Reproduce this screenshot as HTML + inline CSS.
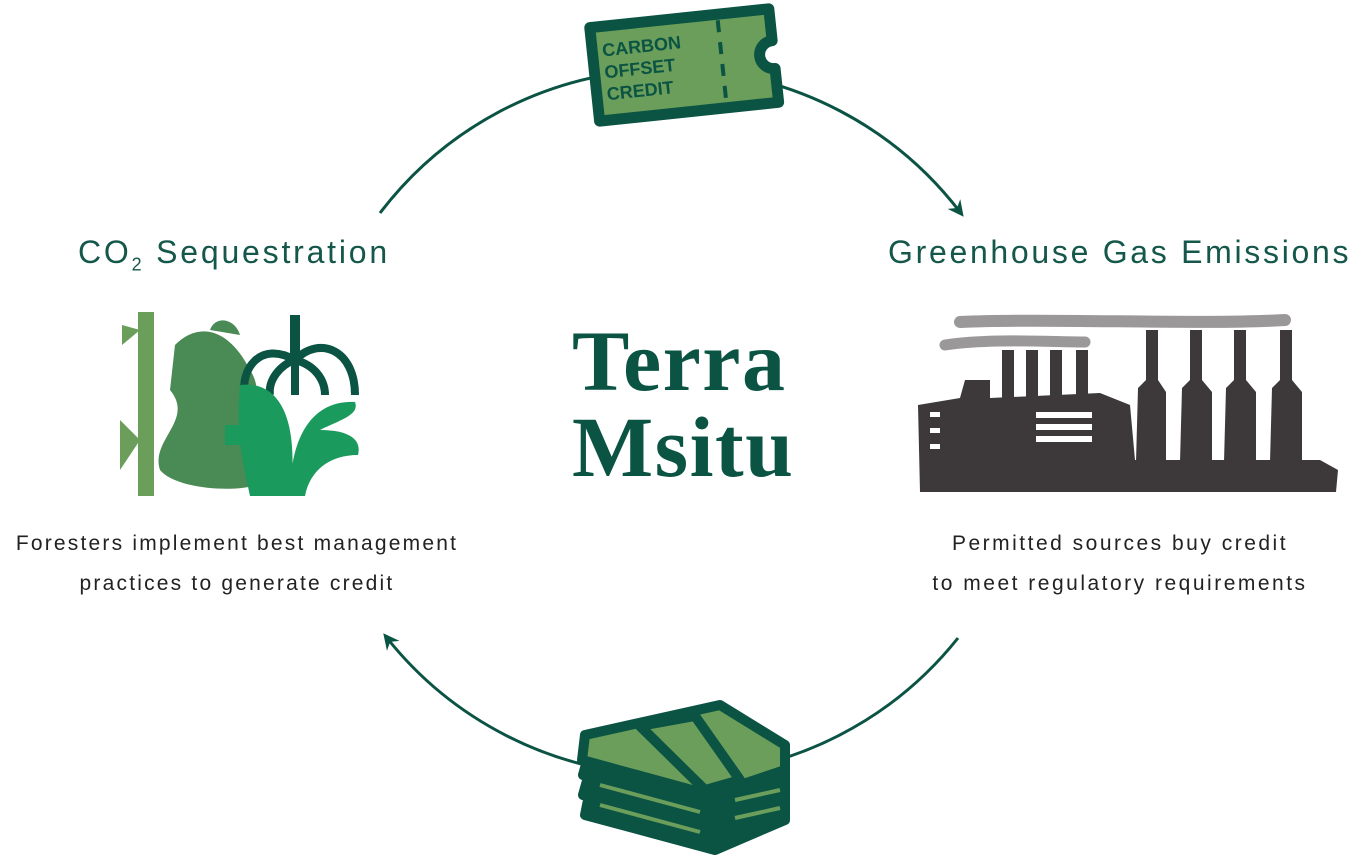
<!DOCTYPE html>
<html><head><meta charset="utf-8"><style>
html,body{margin:0;padding:0;background:#fff}
body{width:1352px;height:863px;position:relative;overflow:hidden;font-family:"Liberation Sans",sans-serif}
.t{position:absolute;color:#15574a;white-space:nowrap}
</style></head><body>
<svg width="1352" height="863" style="position:absolute;left:0;top:0">
<defs><marker id="ah" markerWidth="18" markerHeight="18" refX="10" refY="8" orient="auto" markerUnits="userSpaceOnUse">
<path d="M0,0 L16,8 L0,16 L5,8 Z" fill="#0b5444"/></marker></defs>
<path d="M380,213 A365 365 0 0 1 960,212" fill="none" stroke="#0b5444" stroke-width="3" marker-end="url(#ah)"/>
<path d="M958,638 A365 365 0 0 1 387,638" fill="none" stroke="#0b5444" stroke-width="3" marker-end="url(#ah)"/>
<g transform="rotate(-6 684 63)">
<path d="M594,18 H774 V50 A12 12 0 0 0 774,78 V112 H594 Z" fill="#6a9e5a" stroke="#0b5444" stroke-width="11" stroke-linejoin="round"/>
<line x1="722" y1="24" x2="722" y2="108" stroke="#0b5444" stroke-width="4" stroke-dasharray="12 10"/>
<text x="604" y="48" font-family="Liberation Sans" font-weight="bold" font-size="18" fill="#0b5444">CARBON</text>
<text x="604" y="70" font-family="Liberation Sans" font-weight="bold" font-size="18" fill="#0b5444">OFFSET</text>
<text x="604" y="92" font-family="Liberation Sans" font-weight="bold" font-size="18" fill="#0b5444">CREDIT</text>
</g>
<g stroke="#0b5444" stroke-width="10" stroke-linejoin="round">
<path d="M585,815 L715,850 L785,820 L785,800 L590,790 Z" fill="#0b5444"/>
<path d="M583,795 L715,830 L785,800 L785,780 L590,770 Z" fill="#0b5444"/>
<path d="M583,775 L715,812 L785,782 L785,760 L590,750 Z" fill="#0b5444"/>
<path d="M582,760 L710,795 L785,770 L785,745 L720,705 L585,735 Z" fill="#6a9e5a"/>
<path d="M640,726 L695,716 L740,780 L705,790 Z" fill="#6a9e5a"/>
</g>
<path d="M600,785 L700,812 M600,805 L700,832 M735,800 L780,790 M735,818 L780,808" stroke="#6a9e5a" stroke-width="4"/>
<rect x="138" y="312" width="16" height="184" fill="#6a9e5a"/>
<path d="M122,325 L140,330 L122,345 Z M120,420 L140,440 L120,470 Z" fill="#6a9e5a"/>
<path d="M175,345 C200,320 230,330 250,370 C270,400 240,440 270,470 C280,495 180,495 160,470 C150,440 195,420 170,390 Z" fill="#4a8a55"/>
<path d="M210,330 C215,315 235,318 240,335 Z" fill="#4a8a55"/>
<g fill="none" stroke="#0b5444" stroke-width="8">
<path d="M295,360 C260,340 240,370 245,395"/><path d="M295,360 C320,335 355,350 355,395"/>
<path d="M295,360 C280,365 268,380 270,395"/><path d="M295,360 C315,365 325,380 325,395"/>
<path d="M295,360 L295,395"/>
</g>
<path d="M290,315 H300 V360 H290 Z" fill="#0b5444"/>
<path d="M240,385 C280,380 300,420 290,496 H250 C245,470 235,440 240,385 Z" fill="#1a9a5c"/>
<path d="M290,496 C290,440 310,400 355,402 C360,415 340,420 320,430 C350,430 362,440 358,455 C330,455 310,470 305,496 Z" fill="#1a9a5c"/>
<path d="M225,425 L265,425 L265,445 L225,445 Z" fill="#1a9a5c"/>
<g fill="#3d393a">
<path d="M918,405 L960,398 L965,380 L990,380 L990,398 L1100,393 L1130,405 L1135,460 L1320,460 L1338,470 L1336,492 L920,492 Z"/>
<rect x="1002" y="350" width="12" height="50"/><rect x="1026" y="350" width="12" height="50"/>
<rect x="1050" y="350" width="12" height="50"/><rect x="1076" y="350" width="12" height="50"/>
<path d="M1138,388 L1146,380 L1146,330 L1158,330 L1158,380 L1166,392 L1166,462 L1136,462 Z"/>
<path d="M1182,388 L1190,380 L1190,330 L1202,330 L1202,380 L1212,392 L1212,462 L1180,462 Z"/>
<path d="M1226,388 L1234,380 L1234,330 L1246,330 L1246,380 L1256,392 L1256,462 L1224,462 Z"/>
<path d="M1272,388 L1280,380 L1280,330 L1292,330 L1292,380 L1302,392 L1302,462 L1270,462 Z"/>
</g>
<g fill="#fff"><rect x="1036" y="412" width="56" height="6"/><rect x="1036" y="424" width="56" height="6"/><rect x="1036" y="436" width="56" height="6"/>
<rect x="930" y="412" width="10" height="5"/><rect x="930" y="428" width="10" height="5"/><rect x="930" y="444" width="10" height="5"/></g>
<path d="M960,322 C1050,318 1200,325 1285,320" stroke="#9a9898" stroke-width="12" fill="none" stroke-linecap="round"/>
<path d="M945,345 C990,338 1050,342 1085,342" stroke="#9a9898" stroke-width="11" fill="none" stroke-linecap="round"/>
</svg>
<div class="t" style="left:78px;top:234px;font-size:32px;letter-spacing:2.8px">CO<sub style="font-size:18px">2</sub> Sequestration</div>
<div class="t" style="left:888px;top:234px;font-size:32px;letter-spacing:2.7px">Greenhouse Gas Emissions</div>
<div class="t" style="left:0;width:474px;top:524px;font-size:21px;line-height:40px;text-align:center;color:#222;letter-spacing:2.2px">Foresters implement best management<br>practices to generate credit</div>
<div class="t" style="left:900px;width:440px;top:524px;font-size:21px;line-height:40px;text-align:center;color:#222;letter-spacing:2.5px">Permitted sources buy credit<br>to meet regulatory requirements</div>
<div class="t" style="left:572px;top:318px;font-family:'Liberation Serif',serif;font-weight:bold;font-size:86px;line-height:86px;color:#0b5444;letter-spacing:1.5px">Terra<br>Msitu</div>
</body></html>
